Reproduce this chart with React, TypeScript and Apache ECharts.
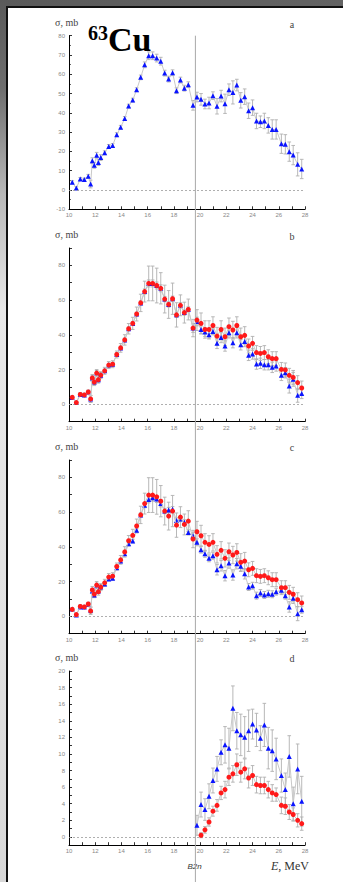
import React, { useEffect, useRef } from "react";
import * as echarts from "echarts";

// Photon energies (MeV)
const energies = [10.25, 10.56, 10.86, 11.17, 11.47, 11.65, 11.78, 11.93, 12.11, 12.24, 12.42, 12.72, 13.03, 13.33, 13.64, 13.94, 14.25, 14.55, 14.86, 15.16, 15.47, 15.77, 16.08, 16.38, 16.69, 17.0, 17.3, 17.6, 17.9, 18.2, 18.5, 18.8, 19.1, 19.46, 19.76, 20.07, 20.37, 20.68, 20.98, 21.29, 21.6, 21.9, 22.2, 22.5, 22.8, 23.1, 23.4, 23.7, 24.0, 24.3, 24.6, 24.9, 25.2, 25.5, 25.8, 26.2, 26.5, 26.8, 27.1, 27.44, 27.75];
const threshold = 19.64;

// Panel a
const sigmaA = [4.0, 1.0, 5.7, 5.4, 7.1, 3.1, 15.2, 12.8, 18.0, 14.2, 16.8, 19.3, 22.6, 23.1, 28.7, 32.5, 37.1, 43.5, 46.6, 52.0, 58.4, 64.9, 69.6, 69.6, 68.4, 66.8, 60.6, 57.5, 60.8, 51.5, 57.0, 52.8, 54.6, 43.9, 48.2, 47.0, 44.6, 45.1, 48.9, 43.4, 48.7, 44.7, 52.0, 50.6, 54.4, 46.5, 48.4, 41.1, 42.7, 35.8, 35.4, 35.8, 33.5, 31.4, 31.4, 24.0, 23.7, 19.9, 18.1, 13.3, 10.9];
const errA = [0.8, 0.8, 0.8, 0.8, 1, 2, 1.5, 1.5, 1.5, 1.5, 1.5, 1, 1, 1, 1, 1, 1, 1, 1, 1, 1.2, 1.5, 2, 2, 2, 2, 1.5, 1.5, 1.5, 1.5, 1.5, 1.5, 1.5, 2.5, 2.5, 3, 2.5, 3, 2, 4, 3, 5, 3, 6, 3, 4, 4, 4, 4, 4, 3, 4, 4, 5, 5, 5, 5, 5, 5, 6, 5];

// Panel b
const redB = [4.0, 1.0, 5.7, 5.4, 7.1, 3.1, 15.2, 12.8, 18.0, 14.2, 16.8, 19.3, 22.6, 23.1, 28.7, 32.5, 37.1, 43.5, 46.6, 52.0, 58.4, 64.9, 69.6, 69.6, 68.4, 66.8, 60.6, 57.5, 60.8, 51.5, 57.0, 52.8, 54.6, 43.9, 48.5, 46.6, 43.1, 43.1, 45.4, 39.3, 43.1, 38.9, 44.7, 42.8, 45.4, 38.9, 39.7, 33.6, 35.1, 29.8, 29.3, 29.8, 27.4, 26.3, 26.3, 20.1, 19.8, 16.7, 15.5, 12.5, 9.4];
const errRedB = [1, 1, 1, 1, 1, 2, 2, 2, 2, 2, 2, 2, 2, 2, 2, 2.5, 3, 3, 3.5, 4, 5, 6, 10, 10, 10, 9, 8, 8, 9, 7, 6, 6, 6, 5, 6, 6, 5, 5, 5, 5, 5, 5, 5, 5, 5, 5, 5, 4, 4, 4, 4, 4, 4, 4, 4, 4, 4, 4, 4, 4, 4];
const blueB = [4.0, 1.0, 5.7, 5.4, 7.1, 3.1, 15.2, 12.8, 18.0, 14.2, 16.8, 19.3, 22.6, 23.1, 28.7, 32.5, 37.1, 43.5, 46.6, 52.0, 58.4, 64.9, 69.6, 69.6, 68.4, 66.8, 60.6, 57.5, 60.8, 51.5, 57.0, 52.8, 54.6, 43.9, 47.7, 43.1, 41.6, 40.1, 42.0, 35.1, 38.5, 33.6, 41.2, 35.5, 41.2, 34.3, 36.2, 28.2, 29.0, 23.2, 23.6, 22.8, 22.8, 21.3, 22.1, 16.7, 18.2, 10.5, 14.4, 5.2, 6.3];
const errBlueB = [0.8, 0.8, 0.8, 0.8, 1, 2, 1.5, 1.5, 1.5, 1.5, 1.5, 1, 1, 1, 1, 1, 1, 1, 1, 1, 1.2, 1.5, 2, 2, 2, 2, 1.5, 1.5, 1.5, 1.5, 1.5, 1.5, 1.5, 2.5, 2.5, 2.5, 2.5, 2.5, 2, 3, 3, 3, 3, 3, 3, 3, 3, 3, 3, 3, 3, 3, 3, 3, 3, 3, 3, 4, 4, 4, 3];

// Panel c
const redC = [4.0, 1.0, 5.7, 5.4, 7.1, 3.1, 15.2, 12.8, 18.0, 14.2, 16.8, 19.3, 22.6, 23.1, 28.7, 32.5, 37.1, 43.5, 46.6, 52.0, 58.4, 64.9, 69.8, 69.8, 68.8, 66.3, 60.6, 57.7, 60.6, 52.5, 57.1, 52.9, 54.8, 44.5, 48.7, 46.4, 42.6, 41.4, 42.6, 35.7, 38.0, 33.4, 37.2, 35.3, 36.8, 31.1, 31.8, 26.8, 27.6, 23.4, 23.0, 23.4, 22.2, 21.1, 21.1, 16.5, 16.5, 13.8, 12.7, 9.6, 7.7];
const errRedC = [1, 1, 1, 1, 1, 2, 2, 2, 2, 2, 2, 2, 2, 2, 2, 2.5, 3, 3, 3.5, 4, 5, 6, 10, 10, 10, 9, 8, 8, 9, 7, 6, 6, 6, 5, 6, 6, 5, 5, 5, 5, 5, 5, 5, 5, 5, 5, 5, 4, 4, 4, 4, 4, 4, 4, 4, 4, 4, 4, 4, 4, 4];
const blueC = [4.2, 0.8, 5.4, 5.4, 6.9, 3.5, 14.6, 12.3, 17.6, 14.6, 16.9, 18.6, 21.5, 21.9, 28.0, 31.8, 36.0, 41.8, 43.3, 49.5, 58.3, 64.0, 67.3, 68.3, 67.5, 65.0, 60.6, 61.2, 61.7, 55.2, 56.0, 54.1, 48.3, 46.4, 42.6, 38.4, 36.0, 33.4, 34.9, 26.8, 29.1, 23.4, 30.7, 23.8, 30.3, 28.8, 24.5, 16.9, 17.6, 11.9, 13.4, 12.3, 13.0, 12.7, 14.2, 15.0, 11.9, 5.4, 10.4, 1.5, 3.8];
const errBlueC = [0.8, 0.8, 0.8, 0.8, 1, 2, 1.5, 1.5, 1.5, 1.5, 1.5, 1, 1, 1, 1, 1, 1, 1, 1, 1, 1.2, 1.5, 2, 2, 2, 2, 1.5, 1.5, 1.5, 1.5, 1.5, 1.5, 1.5, 2, 2, 2, 2, 2, 2, 3, 3, 3, 3, 3, 3, 3, 3, 2, 2, 2, 2, 2, 2, 2, 2, 2, 2, 3, 3, 4, 2];

// Panel d (from threshold)
const energiesD = [19.76, 20.07, 20.37, 20.68, 20.98, 21.29, 21.6, 21.9, 22.2, 22.5, 22.8, 23.1, 23.4, 23.7, 24.0, 24.3, 24.6, 24.9, 25.2, 25.5, 25.8, 26.2, 26.5, 26.8, 27.1, 27.44, 27.75];
const blueD = [1.4, 3.9, 3.3, 4.9, 6.8, 8.2, 10.2, 11.1, 10.7, 15.5, 12.8, 12.3, 12.0, 12.8, 13.6, 12.9, 11.9, 13.5, 10.7, 10.4, 9.4, 7.4, 5.7, 9.7, 4.0, 8.2, 4.3];
const errBlueD = [1.2, 1.5, 1.3, 1.5, 1.5, 1.5, 1.5, 2.2, 2.4, 2.7, 2.2, 2.5, 2.5, 2.5, 1.8, 2.0, 1.5, 2.6, 2.5, 2.5, 2.5, 2.0, 2.0, 2.5, 2.0, 3.0, 3.0];
const energiesRedD = [20.07, 20.37, 20.68, 20.98, 21.29, 21.6, 21.9, 22.2, 22.5, 22.8, 23.1, 23.4, 23.7, 24.0, 24.3, 24.6, 24.9, 25.2, 25.5, 25.8, 26.2, 26.5, 26.8, 27.1, 27.44, 27.75];
const redD = [0.2, 0.85, 1.8, 3.1, 3.8, 5.3, 5.7, 7.2, 7.6, 8.7, 7.8, 8.2, 7.1, 7.4, 6.3, 6.2, 6.2, 5.7, 5.3, 5.1, 3.8, 3.7, 3.0, 2.7, 2.0, 1.6];
const errRedD = [0.3, 0.4, 0.5, 0.6, 0.7, 0.8, 1, 1, 1, 1.3, 1.2, 1.2, 1.2, 1.2, 1, 1, 1, 1, 1, 0.8, 1, 1, 0.9, 0.8, 0.8, 0.8];

// Tick labels
const xTickLabels = ["10", "12", "14", "16", "18", "20", "22", "24", "26", "28"];
const yTickLabelsA = ["-10", "0", "10", "20", "30", "40", "50", "60", "70", "80"];
const yTickLabelsBC = ["0", "20", "40", "60", "80"];
const yTickLabelsD = ["0", "2", "4", "6", "8", "10", "12", "14", "16", "18", "20"];

const panelLetters = ["a", "b", "c", "d"];
const yTitle = "σ, mb";

const BLUE = "#0a14ff";
const RED = "#ff1a1a";

const grids = [
  { left: 69, top: 35.7, width: 236, height: 173.6 },
  { left: 69, top: 248, width: 236, height: 173.7 },
  { left: 69, top: 460, width: 236, height: 173.7 },
  { left: 69, top: 671, width: 236, height: 174.2 },
];

function errSeries(idx: number, xs: number[], ys: number[], es: number[]) {
  return {
    type: "custom",
    xAxisIndex: idx,
    yAxisIndex: idx,
    z: 2,
    silent: true,
    encode: { x: 0, y: [1, 2] },
    data: xs.map((x, i) => [x, ys[i] - es[i], ys[i] + es[i]]),
    renderItem: (params: any, api: any) => {
      const x = api.value(0);
      const p1 = api.coord([x, api.value(1)]);
      const p2 = api.coord([x, api.value(2)]);
      const w = 1.8;
      const st = { stroke: "#b0b0b0", lineWidth: 0.9 };
      return {
        type: "group",
        children: [
          { type: "line", shape: { x1: p1[0], y1: p1[1], x2: p2[0], y2: p2[1] }, style: st },
          { type: "line", shape: { x1: p1[0] - w, y1: p1[1], x2: p1[0] + w, y2: p1[1] }, style: st },
          { type: "line", shape: { x1: p2[0] - w, y1: p2[1], x2: p2[0] + w, y2: p2[1] }, style: st },
        ],
      };
    },
  };
}

function pointSeries(idx: number, xs: number[], ys: number[], color: string, symbol: string, z: number, zeroLine: boolean) {
  const s: any = {
    type: "line",
    xAxisIndex: idx,
    yAxisIndex: idx,
    data: xs.map((x, i) => [x, ys[i]]),
    symbol,
    symbolSize: symbol === "triangle" ? 5 : 5,
    showSymbol: true,
    itemStyle: { color },
    lineStyle: { color: "#c8c8c8", width: 1 },
    z,
    silent: true,
  };
  if (zeroLine) {
    s.markLine = {
      silent: true,
      symbol: "none",
      label: { show: false },
      lineStyle: { color: "#9a9a9a", type: [2, 2], width: 0.8 },
      data: [{ yAxis: 0 }],
    };
  }
  return s;
}

function makeXAxis(i: number) {
  return {
    gridIndex: i,
    type: "value",
    min: 10,
    max: 28,
    interval: 1,
    axisLine: { onZero: false, lineStyle: { color: "#000", width: 1 } },
    axisTick: { inside: true, length: 3, lineStyle: { color: "#000", width: 0.8 } },
    axisLabel: {
      fontSize: 6,
      color: "#888",
      margin: 3,
      fontFamily: "Liberation Sans",
      formatter: (v: number) => (xTickLabels.includes(String(v)) ? String(v) : ""),
    },
    splitLine: { show: false },
  };
}

function makeYAxis(i: number, min: number, max: number, interval: number, labels: string[]) {
  return {
    gridIndex: i,
    type: "value",
    min,
    max,
    interval,
    axisLine: { show: true, onZero: false, lineStyle: { color: "#000", width: 1 } },
    axisTick: { show: true, inside: true, length: 3, lineStyle: { color: "#000", width: 0.8 } },
    minorTick: { show: i === 0, splitNumber: 2, length: 2, lineStyle: { color: "#000", width: 0.6 } },
    axisLabel: {
      fontSize: 6,
      color: "#888",
      margin: 4,
      fontFamily: "Liberation Sans",
      formatter: (v: number) => {
        const r = Math.round(v * 1000) / 1000;
        return labels.includes(String(r)) ? String(r) : "";
      },
    },
    splitLine: { show: false },
  };
}

export default function App() {
  const ref = useRef<HTMLDivElement>(null);
  useEffect(() => {
    if (!ref.current) return;
    const chart = echarts.init(ref.current, undefined, { renderer: "svg" });
    const option: any = {
      animation: false,
      backgroundColor: "transparent",
      grid: grids,
      xAxis: [0, 1, 2, 3].map(makeXAxis),
      yAxis: [
        makeYAxis(0, -10, 80, 10, yTickLabelsA),
        makeYAxis(1, -10, 90, 10, yTickLabelsBC),
        makeYAxis(2, -10, 90, 10, yTickLabelsBC),
        makeYAxis(3, -1, 20, 1, yTickLabelsD),
      ],
      series: [
        errSeries(0, energies, sigmaA, errA),
        pointSeries(0, energies, sigmaA, BLUE, "triangle", 4, true),

        errSeries(1, energies, blueB, errBlueB),
        errSeries(1, energies, redB, errRedB),
        pointSeries(1, energies, blueB, BLUE, "triangle", 4, true),
        pointSeries(1, energies, redB, RED, "circle", 5, false),

        errSeries(2, energies, blueC, errBlueC),
        errSeries(2, energies, redC, errRedC),
        pointSeries(2, energies, blueC, BLUE, "triangle", 4, true),
        pointSeries(2, energies, redC, RED, "circle", 5, false),

        errSeries(3, energiesD, blueD, errBlueD),
        errSeries(3, energiesRedD, redD, errRedD),
        pointSeries(3, energiesD, blueD, BLUE, "triangle", 4, true),
        pointSeries(3, energiesRedD, redD, RED, "circle", 5, false),
      ],
    };
    chart.setOption(option);

    const px = chart.convertToPixel({ xAxisIndex: 0 }, threshold) as number;
    const titleYs = [22.7, 234.7, 446.7, 657.7];
    const letterYs = [24, 236, 447, 658];
    const graphic: any[] = [
      {
        type: "line",
        z: 1,
        silent: true,
        shape: { x1: px, y1: 35.7, x2: px, y2: 882 },
        style: { stroke: "#a8a8a8", lineWidth: 1 },
      },
    ];
    titleYs.forEach((y, i) => {
      graphic.push({
        type: "text",
        x: 55,
        y,
        silent: true,
        style: { text: yTitle, fontSize: 10, fontFamily: "Liberation Serif", fill: "#444", align: "left", verticalAlign: "middle" },
      });
      graphic.push({
        type: "text",
        x: 292,
        y: letterYs[i],
        silent: true,
        style: { text: panelLetters[i], fontSize: 10, fontFamily: "Liberation Serif", fill: "#444", align: "center", verticalAlign: "middle" },
      });
    });
    graphic.push({
      type: "text",
      x: 88,
      y: 33.3,
      silent: true,
      style: { text: "63", fontSize: 20, fontWeight: "bold", fontFamily: "Liberation Serif", fill: "#000", align: "left", verticalAlign: "middle" },
    });
    graphic.push({
      type: "text",
      x: 108,
      y: 39,
      silent: true,
      style: { text: "Cu", fontSize: 34, fontWeight: "bold", fontFamily: "Liberation Serif", fill: "#000", align: "left", verticalAlign: "middle" },
    });
    graphic.push({
      type: "text",
      x: 194.5,
      y: 866,
      silent: true,
      style: { text: "B2n", fontSize: 8, fontStyle: "italic", fontFamily: "Liberation Sans", fill: "#333", align: "center", verticalAlign: "middle" },
    });
    graphic.push({
      type: "text",
      x: 290,
      y: 866,
      silent: true,
      style: {
        text: "{i|E}, MeV",
        fontSize: 12,
        fontFamily: "Liberation Serif",
        fill: "#333",
        align: "center",
        verticalAlign: "middle",
        rich: { i: { fontStyle: "italic", fontSize: 12, fontFamily: "Liberation Serif", fill: "#333" } },
      },
    });
    chart.setOption({ graphic });

    return () => chart.dispose();
  }, []);

  return (
    <div style={{ position: "absolute", left: 0, top: 0, width: 343, height: 882, background: "#fff", overflow: "hidden" }}>
      <div style={{ position: "absolute", left: 0, top: 0, width: 343, height: 6, background: "linear-gradient(90deg, #5a5a5a, #636363)" }} />
      <div
        style={{
          position: "absolute",
          left: 0,
          top: 0,
          width: 6,
          height: 882,
          background: "linear-gradient(180deg, #5a5a5a 0%, #6e6e6e 10%, #b8b8b8 22%, #e8e8e8 35%, #e2e2e2 70%, #d8d8d8 100%)",
        }}
      />
      <div style={{ position: "absolute", left: 6, top: 6, width: 337, height: 2, background: "#111" }} />
      <div style={{ position: "absolute", left: 6, top: 6, width: 2, height: 876, background: "#111" }} />
      <div ref={ref} style={{ position: "absolute", left: 0, top: 0, width: 343, height: 882 }} />
    </div>
  );
}
